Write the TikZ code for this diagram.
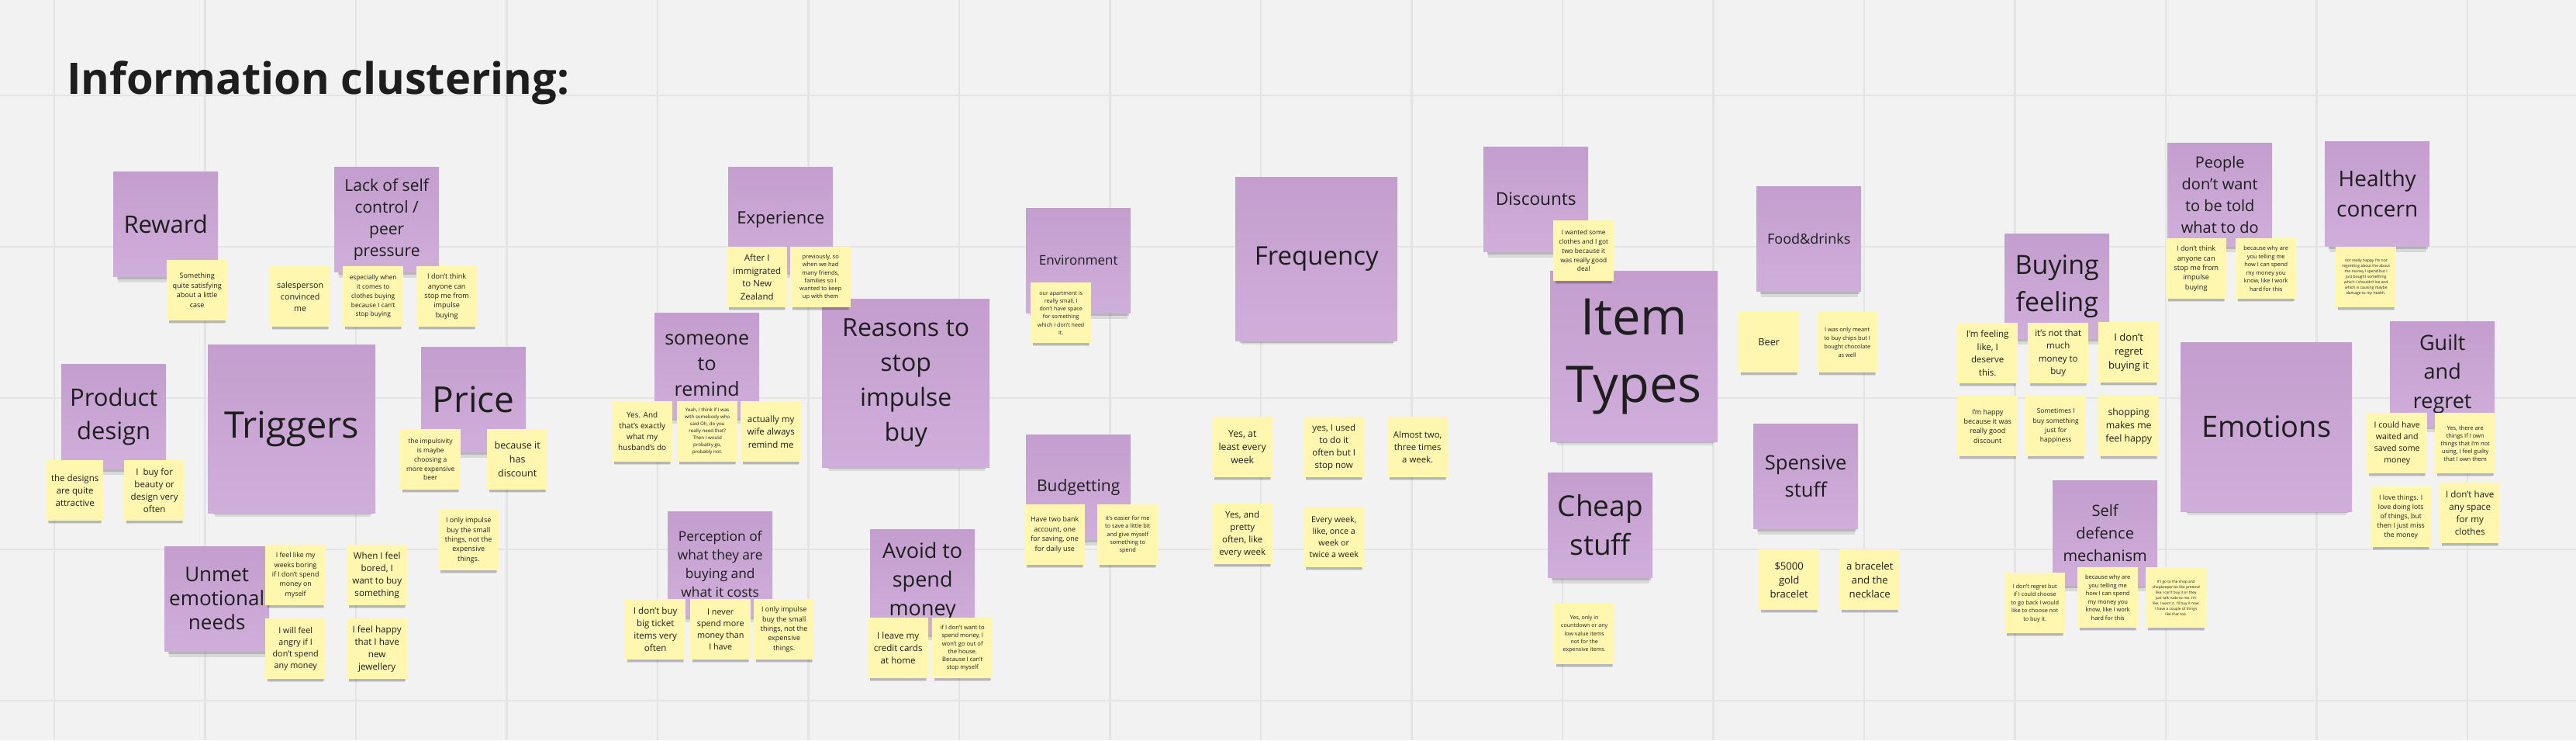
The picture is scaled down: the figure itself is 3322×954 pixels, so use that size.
\documentclass[tikz,border=0pt]{standalone}
\usepackage{fontspec}
\setmainfont{Open Sans}
\usetikzlibrary{shadows}
\definecolor{board}{HTML}{F2F2F2}
\definecolor{gridline}{HTML}{E4E4E4}
\definecolor{lilac}{HTML}{C8A4D3}
\definecolor{lilactop}{HTML}{C39ECE}
\definecolor{lilacbot}{HTML}{D0AEDA}
\definecolor{sticky}{HTML}{FFF6AF}
\definecolor{ink}{HTML}{1E1E1E}
\newcommand{\fsz}[2]{\fontsize{#1}{#2}\selectfont}
\begin{document}
\begin{tikzpicture}[x=1pt, y=-1pt,
  every node/.style={anchor=north west, align=center, inner sep=0pt, text=ink},
  head/.style={fill=lilac, minimum width=135pt, minimum height=135pt,
    path picture={\fill[top color=lilactop, bottom color=lilacbot] (path picture bounding box.south west) rectangle (path picture bounding box.north east);},
    drop shadow={shadow xshift=1pt, shadow yshift=-13pt, shadow scale=.93, opacity=.1, fill=black},
    drop shadow={shadow xshift=1pt, shadow yshift=-8pt, shadow scale=.95, opacity=.16, fill=black}},
  big/.style={minimum width=216pt, minimum height=217pt},
  note/.style={fill=sticky, minimum width=78pt, minimum height=78pt,
    drop shadow={shadow xshift=0pt, shadow yshift=-8pt, shadow scale=.92, opacity=.1, fill=black},
    drop shadow={shadow xshift=0pt, shadow yshift=-5pt, shadow scale=.94, opacity=.16, fill=black}}]
	\useasboundingbox (0,0) rectangle (3322,954);
	\fill[board] (0,0) rectangle (3322,954);
	\tikzset{gridline/.style={draw=gridline, line width=2.5pt}}
	\foreach \gx in {0,...,16}
	\draw[gridline] ({70+194.5*\gx},0) -- ({70+194.5*\gx},954);
	\foreach \gy in {0,...,4}
	\draw[gridline] (0,{123+195*\gy}) -- (3322,{123+195*\gy});
	\node[anchor=base west, font=\bfseries\fsz{56}{60}] (title) at (86,121) {Information clustering:};
	\node[head, font=\fsz{31}{40}] (h1) at (146,221) {Reward};
	\node[head, font=\fsz{21}{28}] (h2) at (431,215) {Lack of self\\control /\\peer\\pressure};
	\node[head, font=\fsz{31}{43}] (h3) at (79,469) {Product\\design};
	\node[head, big, font=\fsz{47}{56}] (h4) at (268,444) {Triggers};
	\node[head, font=\fsz{46}{50}] (h5) at (543,447) {Price};
	\node[head, font=\fsz{26}{31}] (h6) at (212,704) {Unmet\\emotional\\needs};
	\node[head, font=\fsz{22}{28}] (h7) at (939,215) {Experience};
	\node[head, font=\fsz{25}{33}] (h8) at (844,403) {someone\\to\\remind};
	\node[head, big, font=\fsz{32}{45}] (h9) at (1060,385) {Reasons to\\stop\\impulse\\buy};
	\node[head, font=\fsz{17.3}{24}] (h10) at (861,659) {Perception of\\what they are\\buying and\\what it costs};
	\node[head, font=\fsz{27}{37}] (h11) at (1122,682) {Avoid to\\spend\\money};
	\node[head, font=\fsz{17}{22}] (h12) at (1323,268) {Environment};
	\node[head, minimum width=209pt, minimum height=211pt, font=\fsz{33}{40}] (h13) at (1593,228) {Frequency};
	\node[head, font=\fsz{21}{26}] (h14) at (1323,560) {Budgetting};
	\node[head, font=\fsz{22.6}{28}] (h15) at (1913,189) {Discounts};
	\node[head, big, minimum height=220pt, font=\fsz{65}{87}] (h16) at (1999,349) {Item\\Types};
	\node[head, font=\fsz{18}{24}] (h17) at (2265,240) {Food\&drinks};
	\node[head, font=\fsz{37}{50}] (h18) at (1996,609) {Cheap\\stuff};
	\node[head, font=\fsz{25.6}{35}] (h19) at (2261,546) {Spensive\\stuff};
	\node[head, font=\fsz{34}{48}] (h20) at (2585,301) {Buying\\feeling};
	\node[head, minimum height=133pt, font=\fsz{20}{28}] (h21) at (2795,184) {People\\don't want\\to be told\\what to do};
	\node[head, big, minimum width=221pt, minimum height=218pt, font=\fsz{38}{45}] (h22) at (2812,441) {Emotions};
	\node[head, font=\fsz{28}{39}] (h23) at (2998,182) {Healthy\\concern};
	\node[head, font=\fsz{27}{37.5}] (h24) at (3082,414) {Guilt\\and\\regret};
	\node[head, font=\fsz{20}{29}] (h25) at (2647,619) {Self\\defence\\mechanism};
	\node[note, font=\fsz{9}{12.7}] (n1) at (215,335) {Something\\quite satisfying\\about a little\\case};
	\node[note, font=\fsz{10.7}{15}] (n2) at (348,343) {salesperson\\convinced\\me};
	\node[note, font=\fsz{8.3}{11.7}] (n3) at (442,343) {especially when\\it comes to\\clothes buying\\because I can't\\stop buying};
	\node[note, font=\fsz{9.1}{12.3}] (n4) at (537,343) {I don't think\\anyone can\\stop me from\\impulse\\buying};
	\node[note, minimum width=73pt, font=\fsz{11.5}{16}] (n5) at (60,593) {the designs\\are quite\\attractive};
	\node[note, font=\fsz{11.5}{16}] (n6) at (160,593) {I\ \ buy for\\beauty or\\design very\\often};
	\node[note, font=\fsz{8.4}{11.7}] (n7) at (516,553) {the impulsivity\\is maybe\\choosing a\\more expensive\\beer};
	\node[note, font=\fsz{12.5}{18}] (n8) at (628,553) {because it\\has\\discount};
	\node[note, font=\fsz{9}{12.3}] (n9) at (565,657) {I only impulse\\buy the small\\things, not the\\expensive\\things.};
	\node[note, font=\fsz{8.8}{12.3}] (n10) at (342,702) {I feel like my\\weeks boring\\if I don't spend\\money on\\myself};
	\node[note, font=\fsz{11.6}{16}] (n11) at (447,702) {When I feel\\bored, I\\want to buy\\something};
	\node[note, font=\fsz{10.8}{15}] (n12) at (342,797) {I will feel\\angry if I\\don't spend\\any money};
	\node[note, font=\fsz{11.7}{16}] (n13) at (447,797) {I feel happy\\that I have\\new\\jewellery};
	\node[note, font=\fsz{11.5}{16.5}] (n14) at (937,318) {After I\\immigrated\\to New\\Zealand};
	\node[note, font=\fsz{7.5}{10.3}] (n15) at (1019,318) {previously, so\\when we had\\many friends,\\families so I\\wanted to keep\\up with them};
	\node[note, font=\fsz{10}{14}] (n16) at (789,517) {Yes. And\\that's exactly\\what my\\husband's do};
	\node[note, font=\fsz{6.2}{9}] (n17) at (873,517) {Yeah, I think if I was\\with somebody who\\said Oh, do you\\really need that?\\Then I would\\probably go,\\probably not.};
	\node[note, font=\fsz{11.5}{16.5}] (n18) at (955,517) {actually my\\wife always\\remind me};
	\node[note, font=\fsz{11.6}{16}] (n19) at (806,772) {I don't buy\\big ticket\\items very\\often};
	\node[note, font=\fsz{10.8}{15}] (n20) at (890,772) {I never\\spend more\\money than\\I have};
	\node[note, font=\fsz{9}{12.3}] (n21) at (972,772) {I only impulse\\buy the small\\things, not the\\expensive\\things.};
	\node[note, font=\fsz{11.6}{16}] (n22) at (1119,796) {I leave my\\credit cards\\at home};
	\node[note, font=\fsz{7.6}{10.3}] (n23) at (1202,796) {if I don't want to\\spend money, I\\won't go out of\\the house.\\Because I can't\\stop myself};
	\node[note, font=\fsz{7.1}{10.3}] (n24) at (1329,364) {our apartment is\\really small, I\\don't have space\\for something\\which I don't need\\it.};
	\node[note, font=\fsz{9}{12.4}] (n25) at (1321,650) {Have two bank\\account, one\\for saving, one\\for daily use};
	\node[note, font=\fsz{7.4}{10.3}] (n26) at (1415,650) {it's easier for me\\to save a little bit\\and give myself\\something to\\spend};
	\node[note, font=\fsz{12.3}{17}] (n27) at (1563,537) {Yes, at\\least every\\week};
	\node[note, font=\fsz{11.5}{16}] (n28) at (1681,537) {yes, I used\\to do it\\often but I\\stop now};
	\node[note, font=\fsz{11.4}{16}] (n29) at (1789,537) {Almost two,\\three times\\a week.};
	\node[note, font=\fsz{11.5}{16}] (n30) at (1563,649) {Yes, and\\pretty\\often, like\\every week};
	\node[note, font=\fsz{10.7}{15}] (n31) at (1681,653) {Every week,\\like, once a\\week or\\twice a week};
	\node[note, font=\fsz{8.3}{11.7}] (n32) at (2003,284) {I wanted some\\clothes and I got\\two because it\\was really good\\deal};
	\node[note, font=\fsz{12.7}{16}] (n33) at (2242,402) {Beer};
	\node[note, font=\fsz{7.4}{10.7}] (n34) at (2343,402) {I was only meant\\to buy chips but I\\bought chocolate\\as well};
	\node[note, font=\fsz{7.1}{10.3}] (n35) at (2004,778) {Yes, only in\\countdown or any\\low value items\\not for the\\expensive items.};
	\node[note, font=\fsz{13.1}{18}] (n36) at (2268,708) {\$5000\\gold\\bracelet};
	\node[note, font=\fsz{13.2}{18}] (n37) at (2372,708) {a bracelet\\and the\\necklace};
	\node[note, font=\fsz{11.5}{16.5}] (n38) at (2524,416) {I'm feeling\\like, I\\deserve\\this.};
	\node[note, font=\fsz{11.5}{16.5}] (n39) at (2615,416) {it's not that\\much\\money to\\buy};
	\node[note, font=\fsz{13}{18}] (n40) at (2706,415) {I don't\\regret\\buying it};
	\node[note, font=\fsz{9}{12.3}] (n41) at (2524,510) {I'm happy\\because it was\\really good\\discount};
	\node[note, font=\fsz{8.5}{12.3}] (n42) at (2612,510) {Sometimes I\\buy something\\just for\\happiness};
	\node[note, font=\fsz{12.3}{16.7}] (n43) at (2706,510) {shopping\\makes me\\feel happy};
	\node[note, font=\fsz{9.1}{12.3}] (n44) at (2793,307) {I don't think\\anyone can\\stop me from\\impulse\\buying};
	\node[note, font=\fsz{7.4}{10.5}] (n45) at (2883,307) {because why are\\you telling me\\how I can spend\\my money you\\know, like I work\\hard for this};
	\node[note, font=\fsz{5}{7}] (n46) at (3012,318) {not really happy I'm not\\regretting about the about\\the money I spend but I\\just bought something\\which I shouldn't be and\\which is causing maybe\\damage to my health.};
	\node[note, font=\fsz{10.6}{15}] (n47) at (3052,532) {I could have\\waited and\\saved some\\money};
	\node[note, font=\fsz{7.5}{10}] (n48) at (3140,532) {Yes, there are\\things If I own\\things that I'm not\\using, I feel guilty\\that I own them};
	\node[note, font=\fsz{8.7}{12}] (n49) at (3057,627) {I love things. I\\love doing lots\\of things, but\\then I just miss\\the money};
	\node[note, font=\fsz{11.6}{16}] (n50) at (3146,622) {I don't have\\any space\\for my\\clothes};
	\node[note, font=\fsz{7.3}{10.5}] (n51) at (2585,738) {I don't regret but\\if I could choose\\to go back I would\\like to choose not\\to buy it.};
	\node[note, font=\fsz{7.5}{10.5}] (n52) at (2679,731) {because why are\\you telling me\\how I can spend\\my money you\\know, like I work\\hard for this};
	\node[note, font=\fsz{4.8}{7}] (n53) at (2767,731) {If I go to the shop and\\shopkeeper be like pretend\\like I can't buy it or they\\just talk rude to me. I'm\\like, I want it. I'll buy it now.\\I have a couple of things\\like that too.};
\end{tikzpicture}
\end{document}
